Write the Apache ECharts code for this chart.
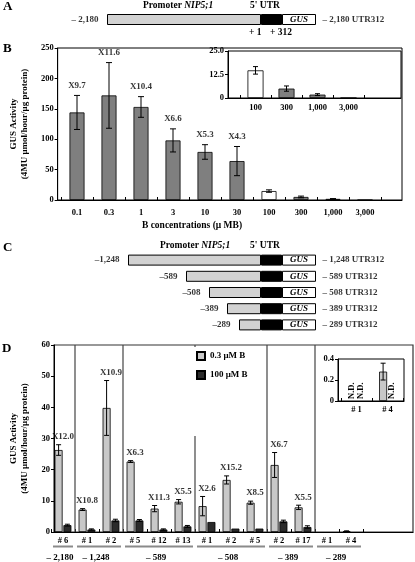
<!DOCTYPE html>
<html><head><meta charset="utf-8">
<script src="https://cdn.jsdelivr.net/npm/echarts@6/dist/echarts.min.js"></script>
<style>html,body{margin:0;padding:0;background:#fff}#c{width:415px;height:562px}</style>
</head><body><div id="c"></div>
<script>
// ---------- Panels A / C : construct schematics ----------
const constructs = ['– 2,180', '–1,248', '–589', '–508', '–389', '–289'];
const constructNames = ['– 2,180 UTR312', '– 1,248 UTR312', '– 589 UTR312', '– 508 UTR312', '– 389 UTR312', '– 289 UTR312'];
const promoterDrawn = [154, 133, 75, 52, 34, 22];   // drawn promoter widths (schematic units)
const utrDrawn = [21, 21, 21, 21, 21, 21];
const gusDrawn = [34, 34, 34, 34, 34, 34];

// ---------- Panel B ----------
const bConc = ['0.1', '0.3', '1', '3', '10', '30', '100', '300', '1,000', '3,000'];
const bMean = [144, 172, 153, 98, 79, 64, 14.7, 5.0, 1.8, 0];
const bErr  = [28, 54, 17, 19, 12, 24, 2.0, 1.4, 0.5, 0];
const bFold = ['X9.7', 'X11.6', 'X10.4', 'X6.6', 'X5.3', 'X4.3', '', '', '', ''];
const bTicks = [0, 50, 100, 150, 200, 250];
const bInsetTicks = [0, 12.5, 25];

// ---------- Panel D ----------
const dLines = ['# 6', '# 1', '# 2', '# 5', '# 12', '# 13', '# 1', '# 2', '# 5', '# 2', '# 17', '# 1', '# 4'];
const dGroups = ['– 2,180', '– 1,248', '– 589', '– 508', '– 389', '– 289'];
const dGroupSize = [1, 2, 3, 3, 2, 2];
const dLow     = [26.3, 7.2, 39.8, 22.6, 7.5, 9.7, 8.3, 16.7, 9.4, 21.5, 7.9, null, 0.28];
const dLowErr  = [1.7, 0.3, 8.8, 0.3, 1.0, 0.7, 3.1, 1.3, 0.5, 4.0, 0.7, null, 0.08];
const dHigh    = [2.2, 0.8, 3.7, 3.7, 0.8, 1.8, 3.2, 1.1, 1.1, 3.4, 1.6, null, null];
const dHighErr = [0.3, 0.2, 0.4, 0.3, 0.2, 0.3, 0, 0, 0, 0.4, 0.4, null, null];
const dFold = ['X12.0', 'X10.8', 'X10.9', 'X6.3', 'X11.3', 'X5.5', 'X2.6', 'X15.2', 'X8.5', 'X6.7', 'X5.5', '', ''];
const dTicks = [0, 10, 20, 30, 40, 50, 60];
const dInsetTicks = [0, 0.2, 0.4];
const dInsetStart = 11;

// ---------- helpers ----------
const F = '"Liberation Serif", "Times New Roman", serif';
const T = (size, extra) => Object.assign({fontFamily: F, fontWeight: 'bold', fontSize: size, color: '#000'}, extra || {});
const BW_D = 8, GAP_D = 0.8, OFF_D = (BW_D + GAP_D) / 2;

function hiddenValueX(gi, min, max) {
  return {gridIndex: gi, type: 'value', min, max, show: false, splitLine: {show: false}};
}
function frameX(gi) {
  return {gridIndex: gi, type: 'value', min: 0, max: 1,
    axisLine: {show: true, lineStyle: {color: '#000', width: 1}},
    axisTick: {show: false}, axisLabel: {show: false}, splitLine: {show: false}};
}
function catX(gi, data, margin) {
  return {gridIndex: gi, type: 'category', data, boundaryGap: true,
    axisLine: {show: false},
    axisTick: {show: true, inside: true, length: 3, interval: 0, lineStyle: {color: '#000'}},
    axisLabel: Object.assign(T(8.5), {interval: 0, margin})};
}
function frameY(gi, ticks, fmt, name, nameGap) {
  const o = {gridIndex: gi, type: 'value', min: ticks[0], max: ticks[ticks.length - 1],
    interval: ticks[1] - ticks[0],
    axisLine: {show: true, lineStyle: {color: '#000', width: 1}},
    axisTick: {show: true, length: 3, lineStyle: {color: '#000'}},
    axisLabel: Object.assign(T(8.5), {margin: 4, formatter: fmt}),
    splitLine: {show: false}};
  if (name) {
    Object.assign(o, {name, nameLocation: 'middle', nameGap, nameRotate: 90,
      nameTextStyle: T(9, {lineHeight: 11})});
  }
  return o;
}
function hiddenY(gi, ticks) {
  return {gridIndex: gi, type: 'value', min: ticks[0], max: ticks[ticks.length - 1], show: false, splitLine: {show: false}};
}

function schematicSeries(xi, yi, idxs) {
  const base = {xAxisIndex: xi, yAxisIndex: yi, silent: true};
  const st = 's' + xi;
  return [
    Object.assign({type: 'bar', stack: st, barWidth: 11, data: idxs.map(i => -promoterDrawn[i]),
      itemStyle: {color: '#d2d2d2', borderColor: '#000', borderWidth: 1}}, base),
    Object.assign({type: 'bar', stack: st, barWidth: 11, data: idxs.map(i => utrDrawn[i]),
      itemStyle: {color: '#000', borderColor: '#000', borderWidth: 1}}, base),
    Object.assign({type: 'bar', stack: st, barWidth: 11, data: idxs.map(i => gusDrawn[i]),
      itemStyle: {color: '#fff', borderColor: '#000', borderWidth: 1},
      label: Object.assign(T(9, {fontStyle: 'italic'}), {show: true, position: 'inside', formatter: 'GUS'})}, base),
    Object.assign({type: 'scatter', symbolSize: 1, itemStyle: {color: 'transparent'},
      data: idxs.map((i, r) => ({value: [-promoterDrawn[i], r], name: constructs[i]})),
      label: Object.assign(T(9), {show: true, position: 'left', distance: 8, formatter: '{b}'})}, base),
    Object.assign({type: 'scatter', symbolSize: 1, itemStyle: {color: 'transparent'},
      data: idxs.map((i, r) => ({value: [utrDrawn[i] + gusDrawn[i], r], name: constructNames[i]})),
      label: Object.assign(T(9), {show: true, position: 'right', distance: 6, formatter: '{b}'})}, base)
  ];
}

function errSeries(xi, yi, means, errs, offset, cap) {
  const data = [];
  means.forEach((m, i) => { if (m != null && errs[i] > 0) data.push([i, m, errs[i]]); });
  return {type: 'custom', xAxisIndex: xi, yAxisIndex: yi, data, z: 5, silent: true,
    encode: {x: 0, y: 1},
    renderItem(params, api) {
      const x = api.value(0), m = api.value(1), e = api.value(2);
      const t = api.coord([x, m + e]), b = api.coord([x, m - e]);
      const cx = t[0] + offset;
      const st = {stroke: '#000', lineWidth: 1};
      return {type: 'group', children: [
        {type: 'line', shape: {x1: cx, y1: t[1], x2: cx, y2: b[1]}, style: st},
        {type: 'line', shape: {x1: cx - cap, y1: t[1], x2: cx + cap, y2: t[1]}, style: st},
        {type: 'line', shape: {x1: cx - cap, y1: b[1], x2: cx + cap, y2: b[1]}, style: st}
      ]};
    }};
}

function foldSeries(xi, yi, means, errs, folds, dist) {
  const data = [];
  folds.forEach((f, i) => { if (f) data.push({value: [i, means[i] + errs[i]], name: f}); });
  return {type: 'scatter', xAxisIndex: xi, yAxisIndex: yi, symbolSize: 1, itemStyle: {color: 'transparent'},
    data, silent: true, z: 6,
    label: Object.assign(T(9), {show: true, position: 'top', distance: dist, formatter: '{b}'})};
}

// group start indices for panel D
const dGroupStart = [];
dGroupSize.reduce((acc, s) => { dGroupStart.push(acc); return acc + s; }, 0);

const chart = echarts.init(document.getElementById('c'));

const insetIdx = bConc.map((c, i) => i).filter(i => i >= 6);
const bFill = i => (bConc[i] === '100' ? '#ffffff' : '#7f7f7f');

const option = {
  animation: false,
  textStyle: {fontFamily: F, fontWeight: 'bold'},
  grid: [
    {left: 0, right: 0, top: 14, height: 11},                                                           // 0 A
    {left: 50, top: 48, width: 352, height: 152, show: true, borderColor: '#000', borderWidth: 1},       // 1 B frame
    {left: 61, top: 48, width: 320, height: 152},                                                       // 2 B bars
    {left: 228, top: 51, width: 173, height: 47, show: true, borderColor: '#000', borderWidth: 1, backgroundColor: '#fff'}, // 3 B inset frame
    {left: 240, top: 51, width: 124, height: 47},                                                       // 4 B inset bars
    {left: 0, right: 0, top: 252, height: 81},                                                          // 5 C
    {left: 49, top: 345, width: 364, height: 187, show: true, borderColor: '#333', borderWidth: 1.2},    // 6 D frame
    {left: 51, top: 345, width: 312, height: 187},                                                      // 7 D bars
    {left: 338, top: 359, width: 66, height: 42, show: true, borderColor: '#000', borderWidth: 1, backgroundColor: '#fff'}, // 8 D inset frame
    {left: 341, top: 359, width: 62, height: 42}                                                        // 9 D inset bars
  ],
  xAxis: [
    hiddenValueX(0, -261, 154),
    frameX(1),
    catX(2, bConc, 8),
    frameX(3),
    catX(4, insetIdx.map(i => bConc[i]), 5),
    hiddenValueX(5, -261, 154),
    frameX(6),
    catX(7, dLines, 4),
    frameX(8),
    catX(9, dLines.slice(dInsetStart), 4)
  ],
  yAxis: [
    {gridIndex: 0, type: 'category', data: [0], show: false},
    frameY(1, bTicks, null, 'GUS Activity\n(4MU μmol/hour/μg protein)', 25),
    hiddenY(2, bTicks),
    frameY(3, bInsetTicks, v => (v === 0 ? '0' : v.toFixed(1))),
    hiddenY(4, bInsetTicks),
    {gridIndex: 5, type: 'category', data: [1, 2, 3, 4, 5], inverse: true, show: false},
    frameY(6, dTicks, null, 'GUS Activity\n(4MU μmol/hour/μg protein)', 24),
    hiddenY(7, dTicks),
    frameY(8, dInsetTicks, v => (v === 0 ? '0' : v.toFixed(1))),
    hiddenY(9, dInsetTicks)
  ],
  legend: {
    data: ['0.3 μM B', '100 μM B'], orient: 'vertical', left: 192, top: 347,
    itemWidth: 8, itemHeight: 8, itemGap: 9, icon: 'rect', selectedMode: false,
    textStyle: T(9), backgroundColor: '#fff', padding: [4, 10, 56, 4]
  },
  graphic: [
    {type: 'text', x: 3, y: 7, style: {text: 'A', font: 'bold 13px ' + F, fill: '#000', verticalAlign: 'middle'}},
    {type: 'text', x: 3, y: 49, style: {text: 'B', font: 'bold 13px ' + F, fill: '#000', verticalAlign: 'middle'}},
    {type: 'text', x: 3, y: 248, style: {text: 'C', font: 'bold 13px ' + F, fill: '#000', verticalAlign: 'middle'}},
    {type: 'text', x: 2, y: 349, style: {text: 'D', font: 'bold 13px ' + F, fill: '#000', verticalAlign: 'middle'}},
    {type: 'text', x: 143, y: 6, style: {text: '{a|Promoter }{b|NIP5;1}', verticalAlign: 'middle',
      rich: {a: T(9.5), b: T(9.5, {fontStyle: 'italic'})}}},
    {type: 'text', x: 250, y: 6, style: {text: "5' UTR", font: 'bold 9.5px ' + F, fill: '#000', verticalAlign: 'middle'}},
    {type: 'text', x: 249, y: 33, style: {text: '+ 1', font: 'bold 9.5px ' + F, fill: '#000', verticalAlign: 'middle'}},
    {type: 'text', x: 270, y: 33, style: {text: '+ 312', font: 'bold 9.5px ' + F, fill: '#000', verticalAlign: 'middle'}},
    {type: 'text', x: 160, y: 246, style: {text: '{a|Promoter }{b|NIP5;1}', verticalAlign: 'middle',
      rich: {a: T(9.5), b: T(9.5, {fontStyle: 'italic'})}}},
    {type: 'text', x: 250, y: 246, style: {text: "5' UTR", font: 'bold 9.5px ' + F, fill: '#000', verticalAlign: 'middle'}},
    {type: 'text', x: 192, y: 226, style: {text: 'B concentrations (μ MB)', font: 'bold 9.5px ' + F, fill: '#000', align: 'center', verticalAlign: 'middle'}}
  ],
  series: [
    ...schematicSeries(0, 0, [0]),
    ...schematicSeries(5, 5, [1, 2, 3, 4, 5]),
    // Panel B main
    {type: 'bar', xAxisIndex: 2, yAxisIndex: 2, barWidth: 15, silent: true,
      itemStyle: {borderColor: '#000', borderWidth: 0.8},
      data: bMean.map((v, i) => ({value: v, itemStyle: {color: bFill(i)}}))},
    errSeries(2, 2, bMean, bErr, 0, 3),
    foldSeries(2, 2, bMean, bErr, bFold, 5),
    // Panel B inset
    {type: 'bar', xAxisIndex: 4, yAxisIndex: 4, barWidth: 16, silent: true,
      itemStyle: {borderColor: '#000', borderWidth: 0.8},
      data: insetIdx.map(i => ({value: bMean[i], itemStyle: {color: bFill(i)}}))},
    errSeries(4, 4, insetIdx.map(i => bMean[i]), insetIdx.map(i => bErr[i]), 0, 2.5),
    // Panel D main
    {type: 'bar', name: '0.3 μM B', xAxisIndex: 7, yAxisIndex: 7, barWidth: BW_D, barGap: '10%', silent: true,
      itemStyle: {color: '#c8c8c8', borderColor: '#000', borderWidth: 0.8},
      data: dLow.map(v => (v == null ? '-' : v))},
    {type: 'bar', name: '100 μM B', xAxisIndex: 7, yAxisIndex: 7, barWidth: BW_D, barGap: '10%', silent: true,
      itemStyle: {color: '#2b2b2b', borderColor: '#000', borderWidth: 0.8},
      data: dHigh.map(v => (v == null ? '-' : v))},
    errSeries(7, 7, dLow, dLowErr, -OFF_D, 2.5),
    errSeries(7, 7, dHigh, dHighErr, OFF_D, 2.5),
    foldSeries(7, 7, dLow, dLowErr, dFold, 3),
    // group separators, underlines and group labels
    {type: 'custom', xAxisIndex: 7, yAxisIndex: 7, silent: true, z: 3, clip: false,
      data: dGroupStart.map((s, g) => [s, s + dGroupSize[g]]),
      encode: {x: 0},
      renderItem(params, api) {
        const s = api.value(0), e = api.value(1);
        const band = api.size([1, 0])[0];
        const p0 = api.coord([s, 0]), p1 = api.coord([e - 1, 0]);
        const top = api.coord([s, dTicks[dTicks.length - 1]])[1];
        const xs = p0[0] - band / 2, xe = p1[0] + band / 2, y0 = p0[1];
        const ch = [];
        if (s > 0) ch.push({type: 'line', shape: {x1: xs, y1: y0, x2: xs, y2: top}, style: {stroke: '#444', lineWidth: 1.2}});
        ch.push({type: 'line', shape: {x1: xs + 2, y1: y0 + 14.5, x2: xe - 2, y2: y0 + 14.5}, style: {stroke: '#8a8a8a', lineWidth: 2}});
        ch.push({type: 'text', x: (xs + xe) / 2 - 3, y: y0 + 25.5,
          style: {text: dGroups[params.dataIndex], font: 'bold 9px ' + F, fill: '#000', align: 'center', verticalAlign: 'middle'}});
        return {type: 'group', children: ch};
      }},
    // Panel D inset
    {type: 'bar', xAxisIndex: 9, yAxisIndex: 9, barWidth: BW_D, barGap: '10%', silent: true,
      itemStyle: {color: '#c8c8c8', borderColor: '#000', borderWidth: 0.8},
      data: dLow.slice(dInsetStart).map(v => (v == null ? '-' : v))},
    {type: 'bar', xAxisIndex: 9, yAxisIndex: 9, barWidth: BW_D, barGap: '10%', silent: true,
      itemStyle: {color: '#2b2b2b', borderColor: '#000', borderWidth: 0.8},
      data: dHigh.slice(dInsetStart).map(v => (v == null ? '-' : v))},
    errSeries(9, 9, dLow.slice(dInsetStart), dLowErr.slice(dInsetStart), -OFF_D, 2.5),
    // N.D. marks
    {type: 'custom', xAxisIndex: 9, yAxisIndex: 9, silent: true, z: 5, clip: false,
      encode: {x: 0},
      data: (() => {
        const out = [];
        dLow.slice(dInsetStart).forEach((v, i) => { if (v == null) out.push([i, 0]); });
        dHigh.slice(dInsetStart).forEach((v, i) => { if (v == null) out.push([i, 1]); });
        return out;
      })(),
      renderItem(params, api) {
        const c = api.coord([api.value(0), 0]);
        const x = c[0] + (api.value(1) === 1 ? OFF_D : -OFF_D);
        return {type: 'text', x: x, y: c[1] - 2, rotation: Math.PI / 2,
          style: {text: 'N.D.', font: 'bold 8.5px ' + F, fill: '#000', align: 'left', verticalAlign: 'middle'}};
      }}
  ]
};
chart.setOption(option);
</script>
</body></html>
